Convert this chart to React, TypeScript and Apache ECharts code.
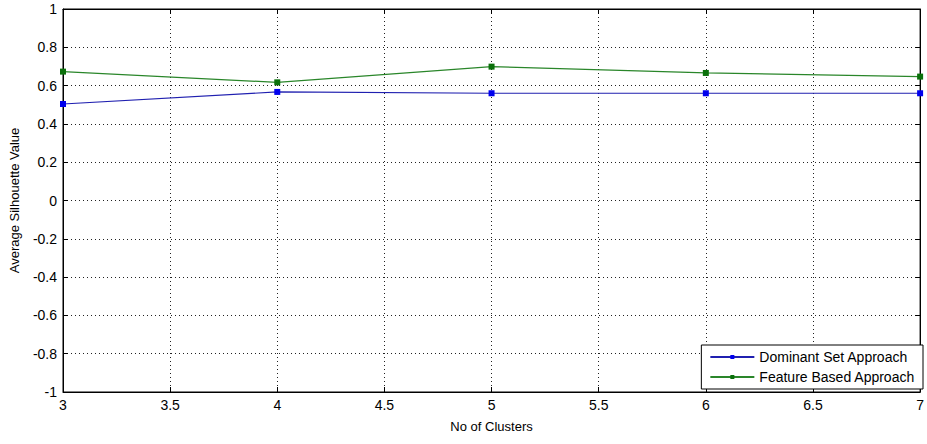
import React, { useEffect, useRef } from "react";
import * as echarts from "echarts";

const clusters = [3, 4, 5, 6, 7];
const dominantSet = [0.504, 0.567, 0.56, 0.56, 0.56];
const featureBased = [0.673, 0.617, 0.699, 0.666, 0.647];
const seriesNames = ["Dominant Set Approach", "Feature Based Approach"];

const FONT = "Liberation Sans, Arial, sans-serif";

export default function App() {
  const ref = useRef<HTMLDivElement>(null);
  useEffect(() => {
    if (!ref.current) return;
    const chart = echarts.init(ref.current, undefined, { renderer: "svg" });
    const fmt = (v: number) => {
      const r = Math.round(v * 10) / 10;
      if (r === 0) return "0";
      return String(r);
    };
    const line = { show: true, onZero: false, lineStyle: { color: "#000" } };
    chart.setOption({
      animation: false,
      backgroundColor: "#ffffff",
      textStyle: { fontFamily: FONT },
      grid: {
        left: 63,
        top: 9,
        right: 4,
        bottom: 52,
        show: true,
        borderColor: "#000",
        borderWidth: 1,
      },
      legend: {
        orient: "vertical",
        right: 4,
        bottom: 55,
        backgroundColor: "#fff",
        borderColor: "#000",
        borderWidth: 1,
        padding: [5, 8, 5, 8],
        itemGap: 6,
        itemWidth: 44,
        itemHeight: 5,
        textStyle: { color: "#000", fontSize: 14, fontFamily: FONT },
        data: seriesNames,
      },
      xAxis: [
        {
          type: "value",
          min: 3,
          max: 7,
          interval: 0.5,
          name: "No of Clusters",
          nameLocation: "middle",
          nameGap: 28,
          nameTextStyle: { color: "#000", fontSize: 13, fontFamily: FONT },
          axisLine: line,
          axisTick: { inside: true, length: 5, lineStyle: { color: "#000" } },
          axisLabel: { color: "#000", fontSize: 14, margin: 6, fontFamily: FONT },
          splitLine: { show: true, lineStyle: { color: "#222", type: [1, 3], width: 1 } },
        },
        {
          type: "value",
          position: "top",
          min: 3,
          max: 7,
          interval: 0.5,
          axisLine: line,
          axisTick: { inside: true, length: 5, lineStyle: { color: "#000" } },
          axisLabel: { show: false },
          splitLine: { show: false },
        },
      ],
      yAxis: [
        {
          type: "value",
          min: -1,
          max: 1,
          interval: 0.2,
          name: "Average Silhouette Value",
          nameLocation: "middle",
          nameGap: 42,
          nameTextStyle: { color: "#000", fontSize: 13, fontFamily: FONT },
          axisLine: line,
          axisTick: { inside: true, length: 5, lineStyle: { color: "#000" } },
          axisLabel: { color: "#000", fontSize: 14, margin: 6, fontFamily: FONT, formatter: fmt },
          splitLine: { show: true, lineStyle: { color: "#222", type: [1, 3], width: 1 } },
        },
        {
          type: "value",
          position: "right",
          min: -1,
          max: 1,
          interval: 0.2,
          axisLine: line,
          axisTick: { inside: true, length: 5, lineStyle: { color: "#000" } },
          axisLabel: { show: false },
          splitLine: { show: false },
        },
      ],
      series: [
        {
          name: seriesNames[0],
          type: "line",
          data: clusters.map((c, i) => [c, dominantSet[i]]),
          symbol: "rect",
          symbolSize: 6,
          lineStyle: { color: "#2020b0", width: 1.2 },
          itemStyle: { color: "#0000ee" },
        },
        {
          name: seriesNames[1],
          type: "line",
          data: clusters.map((c, i) => [c, featureBased[i]]),
          symbol: "rect",
          symbolSize: 6,
          lineStyle: { color: "#2a862a", width: 1.2 },
          itemStyle: { color: "#0a700a" },
        },
      ],
    });
    return () => chart.dispose();
  }, []);
  return (
    <div
      ref={ref}
      style={{ position: "fixed", left: 0, top: 0, width: 927, height: 444, background: "#fff" }}
    />
  );
}
